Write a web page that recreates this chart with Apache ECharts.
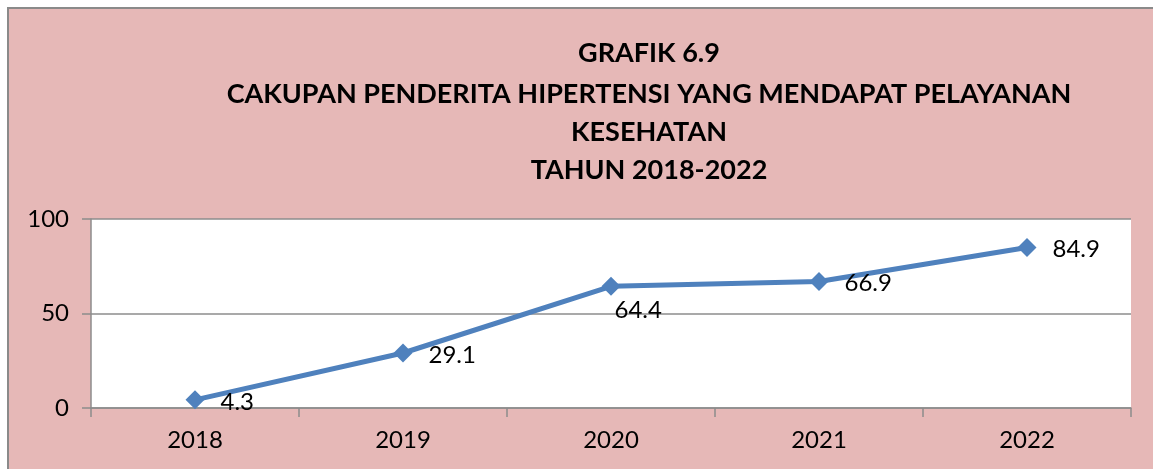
<!DOCTYPE html>
<html>
<head>
<meta charset="utf-8">
<script src="https://cdn.jsdelivr.net/npm/echarts@6/dist/echarts.min.js"></script>
<style>
  html, body { margin: 0; padding: 0; width: 1153px; height: 469px; overflow: hidden; background: #ffffff; }
  #frame { position: absolute; left: 7px; top: 7px; width: 1200px; height: 520px;
           background: #E6B8B7; border: 2px solid #8a8a8a; }
  #chart { position: absolute; left: 0; top: 0; width: 1153px; height: 469px; }
</style>
</head>
<body>
<div id="frame"></div>
<div id="chart"></div>
<script>
// Chart data
const titleLines = [
  'GRAFIK 6.9',
  'CAKUPAN PENDERITA HIPERTENSI YANG MENDAPAT PELAYANAN',
  'KESEHATAN',
  'TAHUN 2018-2022'
];
const years = ['2018', '2019', '2020', '2021', '2022'];
const coverage = [4.3, 29.1, 64.4, 66.9, 84.9];
const yTicks = [0, 50, 100];

const FONT = 'Lato, "Open Sans", sans-serif';
const titleTops = [35, 76, 114, 152];

const chart = echarts.init(document.getElementById('chart'), null, { renderer: 'canvas' });

const seriesData = coverage.map((v, i) => {
  const item = { value: v };
  if (i === 2) {
    // this label sits below its marker
    item.label = { offset: [-22, 24] };
  }
  return item;
});

chart.setOption({
  backgroundColor: 'transparent',
  animation: false,
  title: titleLines.map((t, i) => ({
    text: t,
    left: 644,
    top: titleTops[i],
    textAlign: 'center',
    textStyle: { fontFamily: FONT, fontWeight: 'bold', fontSize: 27, color: '#000000' }
  })),
  grid: {
    left: 91, right: 22, top: 219, bottom: 61,
    show: true, backgroundColor: '#ffffff', borderWidth: 0
  },
  xAxis: {
    type: 'category',
    data: years,
    boundaryGap: true,
    axisLine: { show: true, lineStyle: { color: '#8c8c8c', width: 1.5 } },
    axisTick: { show: true, interval: 0, length: 9, lineStyle: { color: '#8c8c8c', width: 1.5 } },
    axisLabel: { margin: 20, color: '#000000', fontFamily: FONT, fontSize: 24 },
    splitLine: { show: false }
  },
  yAxis: {
    type: 'value',
    min: yTicks[0],
    max: yTicks[yTicks.length - 1],
    interval: yTicks[1] - yTicks[0],
    axisLine: { show: true, lineStyle: { color: '#8c8c8c', width: 1.5 } },
    axisTick: { show: true, inside: false, length: 9, lineStyle: { color: '#8c8c8c', width: 1.5 } },
    axisLabel: { margin: 22, color: '#000000', fontFamily: FONT, fontSize: 24 },
    splitLine: { show: true, lineStyle: { color: '#8c8c8c', width: 1.5 } }
  },
  series: [{
    type: 'line',
    data: seriesData,
    symbol: 'diamond',
    symbolSize: 19,
    itemStyle: { color: '#4F81BD' },
    lineStyle: { color: '#4F81BD', width: 5 },
    label: {
      show: true,
      position: 'right',
      distance: 16,
      offset: [0, 2],
      color: '#000000',
      fontFamily: FONT,
      fontSize: 24
    },
    z: 3
  }]
});
</script>
</body>
</html>
